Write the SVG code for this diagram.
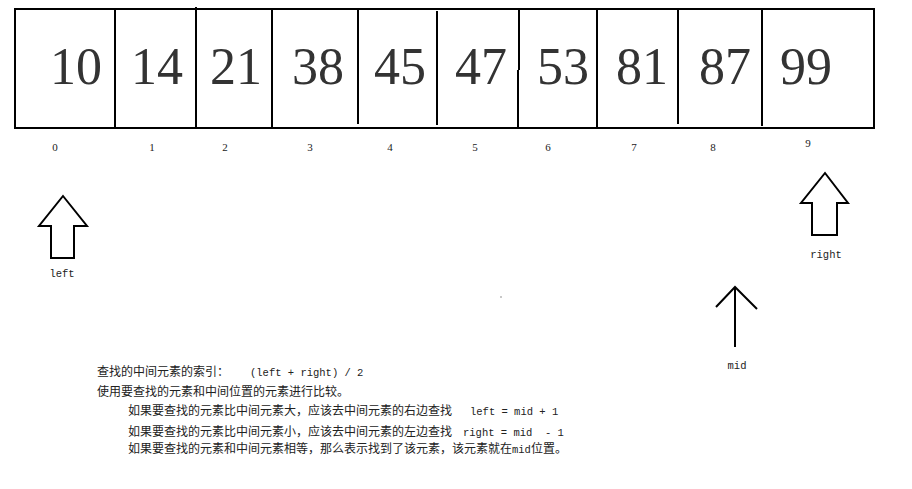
<svg xmlns="http://www.w3.org/2000/svg" width="912" height="489" viewBox="0 0 912 489">
<style>
.num{font-family:"Liberation Serif","DejaVu Serif",serif;font-size:52px;fill:#333;text-anchor:middle}
.idx{font-family:"Liberation Serif","DejaVu Serif",serif;font-size:11px;fill:#222;text-anchor:middle}
.lbl{font-family:"Liberation Mono","DejaVu Sans Mono",monospace;font-size:10.5px;fill:#222;text-anchor:middle}
.ln{stroke:#000;stroke-width:2;fill:none}
.blk{stroke:#000;stroke-width:2;fill:#fff;stroke-linejoin:miter}
.note{font-family:"Noto Sans CJK SC","Noto Sans",sans-serif;font-size:12px;fill:#222;white-space:pre}
.mono{font-family:"Liberation Mono","DejaVu Sans Mono",monospace;font-size:10.5px}
</style>
<rect width="912" height="489" fill="#fff"/>
<g id="array">
<rect class="ln" x="15" y="9" width="859" height="119"/>
<line class="ln" x1="115" y1="9" x2="115" y2="128"/>
<line class="ln" x1="196" y1="7" x2="196" y2="128"/>
<line class="ln" x1="272" y1="9" x2="272" y2="128"/>
<line class="ln" x1="358" y1="10" x2="358" y2="124"/>
<line class="ln" x1="437" y1="11" x2="437" y2="125"/>
<line class="ln" x1="519" y1="9" x2="519" y2="70"/>
<line class="ln" x1="518" y1="70" x2="518" y2="128"/>
<line class="ln" x1="597" y1="9" x2="597" y2="128"/>
<line class="ln" x1="678" y1="10" x2="678" y2="124"/>
<line class="ln" x1="762" y1="10" x2="762" y2="126"/>
</g>
<g id="cell0"><text class="num" x="76" y="84">10</text><text class="idx" x="55" y="151">0</text></g>
<g id="cell1"><text class="num" x="157" y="84">14</text><text class="idx" x="152" y="151">1</text></g>
<g id="cell2"><text class="num" x="236" y="84">21</text><text class="idx" x="225" y="151">2</text></g>
<g id="cell3"><text class="num" x="318" y="84">38</text><text class="idx" x="310" y="151">3</text></g>
<g id="cell4"><text class="num" x="400" y="84">45</text><text class="idx" x="390" y="151">4</text></g>
<g id="cell5"><text class="num" x="481" y="84">47</text><text class="idx" x="475" y="151">5</text></g>
<g id="cell6"><text class="num" x="563" y="84">53</text><text class="idx" x="548" y="151">6</text></g>
<g id="cell7"><text class="num" x="642" y="84">81</text><text class="idx" x="634" y="151">7</text></g>
<g id="cell8"><text class="num" x="725" y="84">87</text><text class="idx" x="713" y="151">8</text></g>
<g id="cell9"><text class="num" x="806" y="84">99</text><text class="idx" x="808" y="147">9</text></g>
<g id="connectors">
<g id="left">
<polygon class="blk" points="63,196 87,226 74,226 74,258 51,258 51,226 39,226"/>
<text class="lbl" x="62" y="277">left</text>
</g>
<g id="right">
<polygon class="blk" points="825,173 848,203 837,203 837,235 812,235 812,203 801,203"/>
<text class="lbl" x="826" y="258">right</text>
</g>
<g id="mid">
<line class="ln" x1="735" y1="287" x2="735" y2="347"/>
<polyline class="ln" points="716,307 735,287 757,309"/>
<text class="lbl" x="737" y="369">mid</text>
</g>
</g>
<circle cx="501" cy="297" r="0.7" fill="#666"/>
<g id="notes">
<text class="note" x="97" y="376">查找的中间元素的索引：<tspan class="mono" x="250">(left + right) / 2</tspan></text>
<text class="note" x="97" y="396">使用要查找的元素和中间位置的元素进行比较。</text>
<text class="note" x="128" y="415">如果要查找的元素比中间元素大，应该去中间元素的右边查找<tspan class="mono" x="470">left = mid + 1</tspan></text>
<text class="note" x="128" y="436">如果要查找的元素比中间元素小，应该去中间元素的左边查找<tspan class="mono" x="463">right = mid  - 1</tspan></text>
<text class="note" x="128" y="453">如果要查找的元素和中间元素相等，那么表示找到了该元素，该元素就在<tspan class="mono">mid</tspan>位置。</text>
</g>
</svg>
